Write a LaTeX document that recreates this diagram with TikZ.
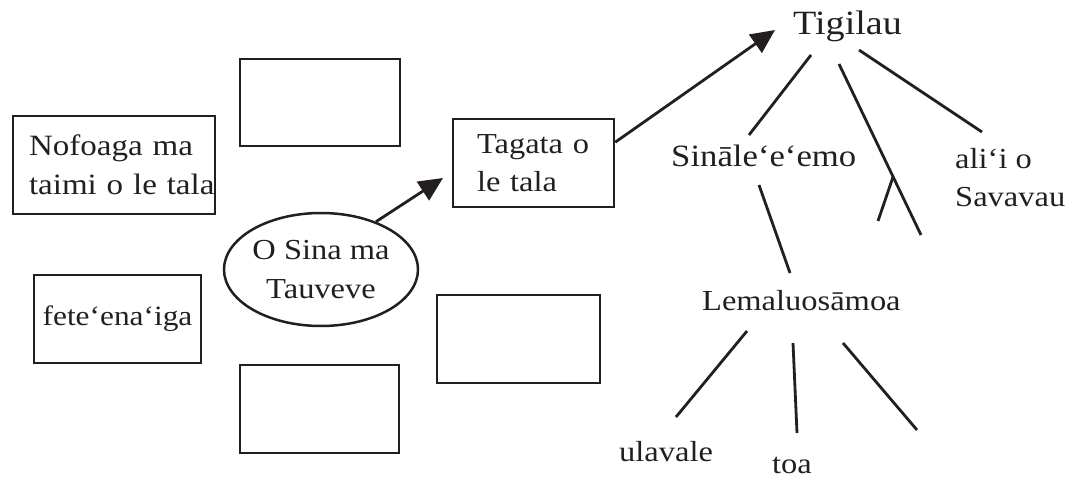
\documentclass[tikz,border=0pt]{standalone}
\usepackage{fontspec}
\setmainfont{Liberation Serif}[FakeStretch=1.12]
\usetikzlibrary{arrows.meta,shapes.geometric,calc}
\definecolor{ink}{HTML}{231F20}
\begin{document}
\begin{tikzpicture}[x=1pt,y=-1pt,
  every node/.style={font=\fontsize{29}{38.5}\selectfont, text=ink},
  box/.style={draw=ink, line width=2.5pt, rectangle, inner sep=0pt, align=left},
  lbl/.style={inner sep=0pt, anchor=base west},
  ln/.style={draw=ink, line width=2.8pt},
  arr/.style={ln, -{Triangle[length=24pt,width=22pt]}}]
\useasboundingbox (0,0) rectangle (1078,481);

% left cluster
\node[box, minimum width=160, minimum height=87] (e1) at (320,102.5) {};
\node[box, text width=202pt, minimum height=98, font=\fontsize{29.5}{38.5}\selectfont] (nofo) at (114,165)
  {\hspace*{16pt}Nofoaga ma\\\hspace*{16pt}taimi o le tala};
\node[box, minimum width=167, minimum height=88, font=\fontsize{28}{38.5}\selectfont] (fete) at (117.5,319) {fete‘ena‘iga};
\node[box, minimum width=159, minimum height=88] (e2) at (319.5,409) {};
\node[draw=ink, line width=2.5pt, ellipse, minimum width=194, minimum height=113, inner sep=0pt, align=center] (sina) at (321,269.5)
  {\makebox[110pt]{O Sina ma}\\\makebox[110pt]{Tauveve}};
\node[box, minimum width=163, minimum height=88] (e3) at (518.5,339) {};
\node[box, text width=161pt, minimum height=88] (tagata) at (533.5,163)
  {\hspace*{24pt}Tagata o\\\hspace*{24pt}le tala};

% arrows
\coordinate (tipA) at (443,178);
\draw[arr] (sina.41.5) -- (tipA);
\coordinate (tipB) at (775,30);
\draw[arr] ($(tagata.north east)!0.27!(tagata.south east)$) -- (tipB);

% tree labels
\node[lbl, font=\fontsize{34}{40}\selectfont] (tigilau) at (793,35) {Tigilau};
\node[lbl, font=\fontsize{31}{40}\selectfont] (sinale) at (671,167) {Sināle‘e‘emo};
\node[inner sep=0pt, anchor=west, align=left] (alii) at (955,177.5) {ali‘i o\\Savavau};
\node[lbl] (lema) at (702,310) {Lemaluosāmoa};
\node[lbl] (ulavale) at (619,461) {ulavale};
\node[lbl] (toa) at (772,473) {toa};

% tree lines
\coordinate (t1a) at (811,55);  \coordinate (t1b) at (749,135);
\coordinate (t2a) at (839,64);  \coordinate (t2b) at (921,235);
\coordinate (t3a) at (859,50);  \coordinate (t3b) at (982,132);
\coordinate (bra) at (893,177); \coordinate (brb) at (878,221);
\coordinate (s1a) at (759,185); \coordinate (s1b) at (790,273);
\coordinate (l1a) at (747,331); \coordinate (l1b) at (676,417);
\coordinate (l2a) at (793,343); \coordinate (l2b) at (797,433);
\coordinate (l3a) at (843,343); \coordinate (l3b) at (917,430);
\draw[ln] (t1a) -- (t1b);
\draw[ln] (t2a) -- (t2b);
\draw[ln] (t3a) -- (t3b);
\draw[ln] (bra) -- (brb);
\draw[ln] (s1a) -- (s1b);
\draw[ln] (l1a) -- (l1b);
\draw[ln] (l2a) -- (l2b);
\draw[ln] (l3a) -- (l3b);
\end{tikzpicture}
\end{document}
